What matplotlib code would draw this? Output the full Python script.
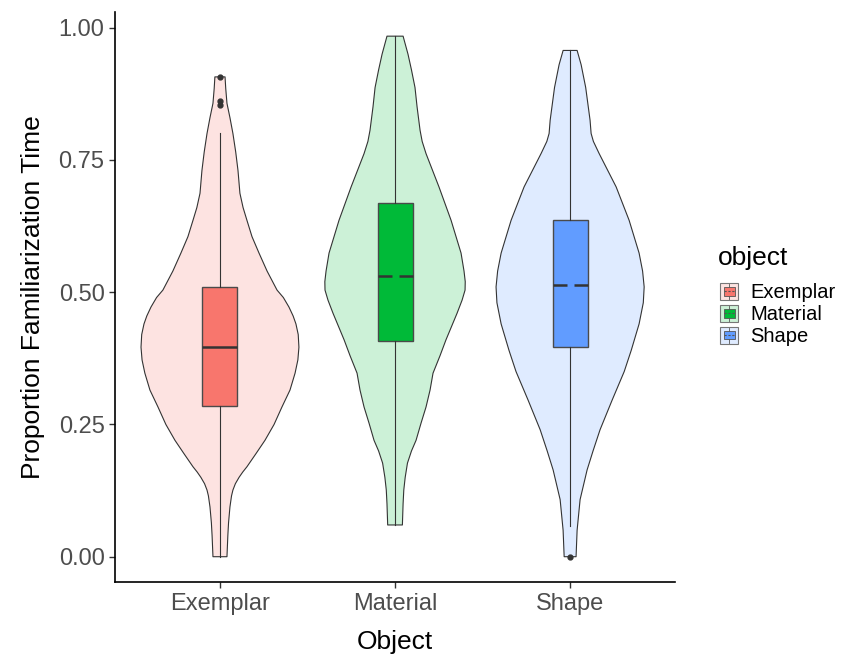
import numpy as np
import matplotlib.pyplot as plt
from matplotlib.colors import to_rgba
from matplotlib.legend_handler import HandlerBase
from matplotlib.patches import Rectangle, Patch
from matplotlib.lines import Line2D

plt.rcParams['font.family'] = ['Liberation Sans', 'DejaVu Sans']

objects = ['Exemplar', 'Material', 'Shape']
colors = ['#F8766D', '#00BA38', '#619CFF']

# violin outlines: y value and half-width (in x-axis units)
exemplar_y  = [0.000, 0.040, 0.064, 0.094, 0.115, 0.126, 0.138, 0.150, 0.160, 0.170, 0.195, 0.220, 0.250,
               0.283, 0.315, 0.347, 0.372, 0.396, 0.420, 0.440, 0.455, 0.472, 0.490, 0.504, 0.540,
               0.574, 0.605, 0.636, 0.660, 0.687, 0.730, 0.765, 0.800, 0.830, 0.857, 0.885, 0.907]
exemplar_hw = [0.040, 0.045, 0.049, 0.057, 0.066, 0.074, 0.088, 0.109, 0.130, 0.154, 0.206, 0.257, 0.309,
               0.354, 0.400, 0.429, 0.445, 0.451, 0.447, 0.434, 0.418, 0.394, 0.362, 0.326, 0.269,
               0.223, 0.183, 0.154, 0.132, 0.114, 0.103, 0.090, 0.074, 0.057, 0.040, 0.033, 0.029]

material_y  = [0.060, 0.100, 0.126, 0.150, 0.177, 0.200, 0.220, 0.253, 0.283, 0.315, 0.347, 0.380, 0.410,
               0.460, 0.485, 0.504, 0.520, 0.540, 0.574, 0.636, 0.699, 0.762, 0.785, 0.806, 0.850,
               0.887, 0.920, 0.950, 0.984]
material_hw = [0.042, 0.046, 0.050, 0.058, 0.071, 0.094, 0.120, 0.149, 0.177, 0.200, 0.217, 0.257, 0.291,
               0.354, 0.383, 0.400, 0.401, 0.394, 0.377, 0.320, 0.251, 0.177, 0.155, 0.143, 0.126,
               0.114, 0.094, 0.074, 0.046]

shape_y  = [0.000, 0.050, 0.108, 0.164, 0.200, 0.240, 0.296, 0.350, 0.390, 0.440, 0.480, 0.510, 0.540,
            0.574, 0.636, 0.699, 0.762, 0.785, 0.800, 0.825, 0.887, 0.930, 0.957]
shape_hw = [0.034, 0.040, 0.057, 0.097, 0.131, 0.171, 0.240, 0.309, 0.349, 0.394, 0.418, 0.423, 0.414,
            0.394, 0.337, 0.263, 0.166, 0.133, 0.120, 0.114, 0.089, 0.063, 0.040]

violin_y = [exemplar_y, material_y, shape_y]
violin_hw = [exemplar_hw, material_hw, shape_hw]

# boxplot summaries
whisker_low  = [0.000, 0.060, 0.058]
q1           = [0.284, 0.408, 0.396]
medians      = [0.396, 0.531, 0.513]
q3           = [0.509, 0.668, 0.637]
whisker_high = [0.800, 0.984, 0.957]
outliers     = [[0.907, 0.862, 0.853], [], [0.000]]

edge = '#333333'

fig = plt.figure(figsize=(8.45, 6.57), dpi=100)
ax = fig.add_axes([0.136, 0.114, 0.663, 0.868])

for i, name in enumerate(objects):
    pos = i + 1
    y = np.array(violin_y[i])
    hw = np.array(violin_hw[i])
    xs = np.concatenate([pos - hw, (pos + hw)[::-1]])
    ys = np.concatenate([y, y[::-1]])
    ax.fill(xs, ys, facecolor=to_rgba(colors[i], 0.2), edgecolor=edge, lw=0.8,
            joinstyle='round', zorder=1)

    stats = [dict(med=medians[i], q1=q1[i], q3=q3[i], whislo=whisker_low[i],
                  whishi=whisker_high[i], fliers=outliers[i])]
    if i == 0:
        med_style = dict(color=edge, lw=1.8, solid_capstyle='butt')
    else:
        med_style = dict(color=edge, lw=1.8, linestyle=(0, (5.6, 2.8)), dash_capstyle='butt')
    ax.bxp(stats, positions=[pos], widths=0.2, patch_artist=True, showcaps=False,
           boxprops=dict(facecolor=colors[i], edgecolor='#4a4a4a', lw=1.0),
           whiskerprops=dict(color=edge, lw=0.8),
           medianprops=med_style,
           flierprops=dict(marker='o', markersize=3.5, markerfacecolor=edge,
                           markeredgecolor=edge),
           manage_ticks=False, zorder=2)

ax.set_xlim(0.4, 3.6)
ax.set_ylim(-0.048, 1.03)
ax.set_xticks([1, 2, 3])
ax.set_xticklabels(objects)
ax.set_yticks([0, 0.25, 0.5, 0.75, 1.0])
ax.set_yticklabels(['0.00', '0.25', '0.50', '0.75', '1.00'])
ax.tick_params(labelsize=17, labelcolor='#4d4d4d', color='#333333', length=4, width=1)
for side in ['top', 'right']:
    ax.spines[side].set_visible(False)
for side in ['left', 'bottom']:
    ax.spines[side].set_linewidth(1.2)
    ax.spines[side].set_color('black')
ax.set_xlabel('Object', fontsize=19, labelpad=11)
ax.set_ylabel('Proportion Familiarization Time', fontsize=19, labelpad=10)


class ViolinBoxKey(HandlerBase):
    def create_artists(self, legend, orig_handle, xdescent, ydescent, width, height, fontsize, trans):
        col = orig_handle.get_facecolor()
        x0, y0 = -xdescent, -ydescent
        outer = Rectangle((x0, y0), width, height, facecolor=to_rgba(col, 0.2),
                          edgecolor='#777777', lw=0.8, transform=trans)
        inner = Rectangle((x0 + width * 0.2, y0 + height * 0.25), width * 0.6, height * 0.5,
                          facecolor=col, edgecolor='#555555', lw=0.6, transform=trans)
        whisk = Line2D([x0 + width / 2] * 2, [y0 + height * 0.05, y0 + height * 0.95],
                       color='#555555', lw=0.6, transform=trans)
        med = Line2D([x0 + width * 0.2, x0 + width * 0.8], [y0 + height / 2] * 2,
                     color='#555555', lw=0.8, linestyle=(0, (2, 1.5)), transform=trans)
        return [outer, whisk, inner, med]


# legend title drawn on its own so the gap below it matches ggplot spacing
fig.text(718 / 845, 1 - 258 / 657, 'object', fontsize=19, ha='left', va='center')
handles = [Patch(facecolor=c) for c in colors]
fig.legend(handles, objects, handler_map={Patch: ViolinBoxKey()},
           loc='upper left', bbox_to_anchor=(0.852, 1 - 283 / 657), frameon=False,
           fontsize=14.5, borderaxespad=0, borderpad=0,
           handlelength=0.92, handleheight=0.92, labelspacing=0.12, handletextpad=0.6)

fig.savefig('out.png', dpi=100)
